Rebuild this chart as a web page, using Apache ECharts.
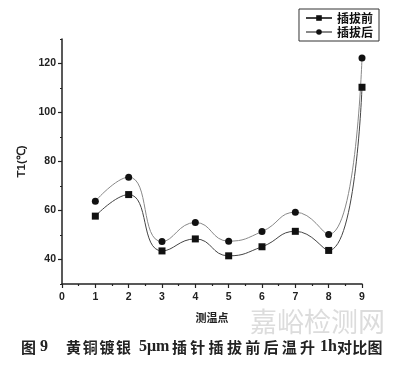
<!DOCTYPE html>
<html><head><meta charset="utf-8">
<script src="https://cdn.jsdelivr.net/npm/echarts@6/dist/echarts.min.js"></script>
<style>html,body{margin:0;padding:0;background:#fff}#c{width:400px;height:366px}</style>
</head><body><div id="c"></div>
<script>
const points = [1, 2, 3, 4, 5, 6, 7, 8, 9];
const before = [57.7, 66.5, 43.5, 48.4, 41.5, 45.2, 51.5, 43.7, 110.3];
const after = [63.8, 73.6, 47.3, 55.1, 47.5, 51.4, 59.3, 50.2, 122.2];
const yLabels = [40, 60, 80, 100, 120];
const yMinor = [30, 50, 70, 90, 110, 130];
const seriesNames = ['插拔前', '插拔后'];
const captionParts = ['图', '9', '黄铜镀银', '5μm', '插针插拔前后温升', '1h', '对比图'];

const chart = echarts.init(document.getElementById('c'));
const axisLine = {show: true, lineStyle: {color: '#222', width: 1.5}};
// layout of caption pieces: start x, per-character pitch (0 = whole word), latin font or not
const capX = [21, 40, 66, 139, 172, 320, 337];
const capPitch = [0, 0, 16.7, 0, 18.3, 0, 15.3];
const capLatin = [false, true, false, true, false, true, false];
const captionGraphics = [];
captionParts.forEach((t, i) => {
  const chars = capPitch[i] ? Array.from(t) : [t];
  chars.forEach((c, j) => {
    captionGraphics.push({
      type: 'text', left: capX[i] + j * capPitch[i], top: capLatin[i] ? 339 : 340, z: 10,
      style: {
        text: c,
        fontFamily: capLatin[i] ? 'Liberation Serif' : 'Noto Sans CJK SC',
        fontWeight: 'bold', fontSize: capLatin[i] ? 16 : 15, fill: '#222'
      }
    });
  });
});
chart.setOption({
  animation: false,
  grid: {left: 62, right: 38, top: 39, bottom: 82},
  legend: {
    right: 21, top: 9, orient: 'vertical', itemGap: 2,
    itemWidth: 26, itemHeight: 7,
    borderColor: '#333', borderWidth: 1, padding: [3, 6, 3, 6],
    textStyle: {fontFamily: 'Noto Sans CJK SC', fontWeight: 'bold', fontSize: 12, color: '#111'},
    data: seriesNames
  },
  xAxis: {
    type: 'value', min: 0, max: 9, interval: 1,
    name: '测温点', nameLocation: 'middle', nameGap: 28,
    nameTextStyle: {fontFamily: 'Noto Sans CJK SC', fontWeight: 'bold', fontSize: 11, color: '#222'},
    axisLine: axisLine,
    axisTick: {show: true, length: 4, lineStyle: {color: '#222', width: 1.2}},
    minorTick: {show: true, splitNumber: 2, length: 2, lineStyle: {color: '#222', width: 1.2}},
    axisLabel: {fontFamily: 'Liberation Sans', fontWeight: 'bold', fontSize: 10.5, color: '#222', margin: 8},
    splitLine: {show: false}
  },
  yAxis: [{
    type: 'value', min: 30, max: 130, interval: 10,
    name: 'T1(℃)', nameLocation: 'middle', nameGap: 26,
    nameTextStyle: {fontFamily: 'Liberation Sans', fontWeight: 'bold', fontSize: 11.5, color: '#222'},
    axisLine: axisLine,
    axisTick: {show: true, length: 4, customValues: yLabels, lineStyle: {color: '#222', width: 1.2}},
    axisLabel: {customValues: yLabels, fontFamily: 'Liberation Sans', fontWeight: 'bold', fontSize: 10.5, color: '#222', margin: 6},
    splitLine: {show: false}
  }, {
    type: 'value', min: 30, max: 130, interval: 10, position: 'left',
    axisLine: {show: false},
    axisTick: {show: true, length: 2, customValues: yMinor, lineStyle: {color: '#222', width: 1.2}},
    axisLabel: {show: false},
    splitLine: {show: false}
  }],
  series: [{
    name: seriesNames[0], type: 'line', smooth: 0.5,
    data: points.map((p, i) => [p, before[i]]),
    symbol: 'rect', symbolSize: 7,
    itemStyle: {color: '#111'},
    lineStyle: {color: '#444', width: 1}
  }, {
    name: seriesNames[1], type: 'line', smooth: 0.5,
    data: points.map((p, i) => [p, after[i]]),
    symbol: 'circle', symbolSize: 7,
    itemStyle: {color: '#111'},
    lineStyle: {color: '#888', width: 1}
  }],
  graphic: [{
    type: 'text', left: 250, top: 308, z: 0,
    style: {text: '嘉峪检测网', fontFamily: 'Noto Sans CJK SC', fontSize: 27, fill: '#dcdcdc'}
  }].concat(captionGraphics)
});
</script></body></html>
